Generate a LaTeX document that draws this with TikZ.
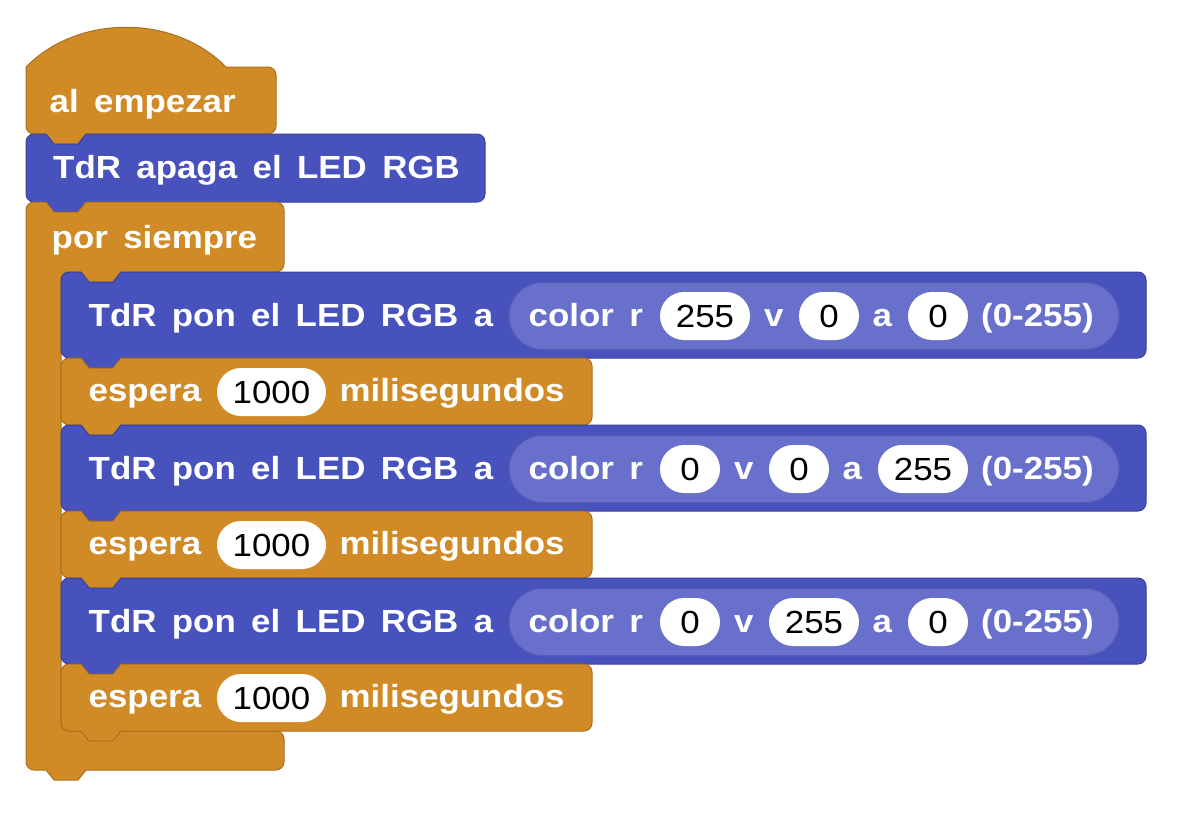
\documentclass[tikz,border=0pt]{standalone}
\usepackage{fontspec}
\newfontfamily\lblfont{Liberation Sans}[FakeStretch=1.09]
\newfontfamily\numfont{Liberation Sans}[FakeStretch=1.09]
\newcommand{\lblsetup}{\lblfont\bfseries\fontsize{32}{38}\selectfont\spaceskip 15.4pt\relax}
\definecolor{ora}{HTML}{D08B27}
\definecolor{orab}{HTML}{A8701F}
\definecolor{blk}{HTML}{4852BD}
\definecolor{blkb}{HTML}{3A409E}
\definecolor{rep}{HTML}{6870CB}
\definecolor{repb}{HTML}{565CB2}
\tikzset{
  lbl/.style={anchor=base west, inner sep=0pt, text=white, font=\lblsetup},
  num/.style={anchor=base, inner sep=0pt, text=black, font=\numfont\fontsize{32}{38}\selectfont},
  edge/.style={line width=1pt, line join=round},
}
% stack block: left, top, right, bottom, fill, border
\newcommand{\stackblk}[6]{%
  \filldraw[edge,fill=#5,draw=#6]
  (#1,#2+8) .. controls (#1,#2+3.6) and (#1+3.6,#2) .. (#1+8,#2)
  -- (#1+20,#2) -- (#1+28,#2+10) -- (#1+52,#2+10) -- (#1+60,#2)
  -- (#3-8,#2) .. controls (#3-3.6,#2) and (#3,#2+3.6) .. (#3,#2+8)
  -- (#3,#4-8) .. controls (#3,#4-3.6) and (#3-3.6,#4) .. (#3-8,#4)
  -- (#1+60,#4) -- (#1+52,#4+10) -- (#1+28,#4+10) -- (#1+20,#4)
  -- (#1+8,#4) .. controls (#1+3.6,#4) and (#1,#4-3.6) .. (#1,#4-8) -- cycle;}
% white field: x0, x1, top, text, name
\newcommand{\fld}[5]{%
  \fill[white,rounded corners=24pt] (#1,#3) rectangle (#2,#3+48);
  \node[num] (#5) at ({(#1+#2)/2},#3+35) {#4};}
\begin{document}
\begin{tikzpicture}[x=1pt,y=-1pt]
\useasboundingbox (0,0) rectangle (1188,822);
\fill[white] (0,0) rectangle (1188,822);

% hat block
\filldraw[edge,fill=ora,draw=orab]
  (26,67) .. controls (78,14) and (174,14) .. (226,67)
  -- (268,67) .. controls (272.4,67) and (276,70.6) .. (276,75)
  -- (276,126) .. controls (276,130.4) and (272.4,134) .. (268,134)
  -- (86,134) -- (78,144) -- (54,144) -- (46,134)
  -- (34,134) .. controls (29.6,134) and (26,130.4) .. (26,126) -- cycle;
\node[lbl] (hat) at (49.5,112) {al empezar};

% apaga
\stackblk{26}{134}{485}{202}{blk}{blkb}
\node[lbl] (apaga) at (53,178.3) {TdR apaga el LED RGB};

% forever C block
\filldraw[edge,fill=ora,draw=orab]
  (26,210) .. controls (26,205.6) and (29.6,202) .. (34,202)
  -- (46,202) -- (54,212) -- (78,212) -- (86,202)
  -- (276,202) .. controls (280.4,202) and (284,205.6) .. (284,210)
  -- (284,264) .. controls (284,268.4) and (280.4,272) .. (276,272)
  -- (121,272) -- (113,282) -- (89,282) -- (81,272)
  -- (69,272) .. controls (64.4,272) and (61,275.6) .. (61,280)
  -- (61,723) .. controls (61,727.4) and (64.4,731) .. (69,731)
  -- (276,731) .. controls (280.4,731) and (284,734.6) .. (284,739)
  -- (284,762) .. controls (284,766.4) and (280.4,770) .. (276,770)
  -- (86,770) -- (78,780) -- (54,780) -- (46,770)
  -- (34,770) .. controls (29.6,770) and (26,766.4) .. (26,762) -- cycle;
\node[lbl] (forever) at (51.5,248.3) {por siempre};

% ---- row 1 (red)
\stackblk{61}{272}{1146}{358}{blk}{blkb}
\filldraw[edge,fill=rep,draw=repb,rounded corners=33.5pt] (509,282.5) rectangle (1119,349.5);
\node[lbl] (s1) at (88.5,326.7) {TdR pon el LED RGB a};
\node[lbl] (c1) at (528.5,326.7) {color r};
\fld{660}{750}{292}{255}{r1}
\node[lbl] (v1) at (764,326.7) {v};
\fld{799}{859}{292}{0}{g1}
\node[lbl] (a1) at (872.5,326.7) {a};
\fld{908}{968}{292}{0}{b1}
\node[lbl] (p1) at (981,326.7) {(0-255)};

% ---- wait 1
\stackblk{61}{358}{592}{425}{ora}{orab}
\node[lbl] (w1) at (88.5,401.7) {espera};
\fld{217}{326}{368}{1000}{m1}
\node[lbl] (ms1) at (339.5,401.7) {milisegundos};

% ---- row 2 (blue)
\stackblk{61}{425}{1146}{511}{blk}{blkb}
\filldraw[edge,fill=rep,draw=repb,rounded corners=33.5pt] (509,435.5) rectangle (1119,502.5);
\node[lbl] (s2) at (88.5,479.7) {TdR pon el LED RGB a};
\node[lbl] (c2) at (528.5,479.7) {color r};
\fld{660}{720}{445}{0}{r2}
\node[lbl] (v2) at (734,479.7) {v};
\fld{769}{829}{445}{0}{g2}
\node[lbl] (a2) at (842.5,479.7) {a};
\fld{878}{968}{445}{255}{b2}
\node[lbl] (p2) at (981,479.7) {(0-255)};

% ---- wait 2
\stackblk{61}{511}{592}{578}{ora}{orab}
\node[lbl] (w2) at (88.5,554.7) {espera};
\fld{217}{326}{521}{1000}{m2}
\node[lbl] (ms2) at (339.5,554.7) {milisegundos};

% ---- row 3 (green)
\stackblk{61}{578}{1146}{664}{blk}{blkb}
\filldraw[edge,fill=rep,draw=repb,rounded corners=33.5pt] (509,588.5) rectangle (1119,655.5);
\node[lbl] (s3) at (88.5,632.7) {TdR pon el LED RGB a};
\node[lbl] (c3) at (528.5,632.7) {color r};
\fld{660}{720}{598}{0}{r3}
\node[lbl] (v3) at (734,632.7) {v};
\fld{769}{859}{598}{255}{g3}
\node[lbl] (a3) at (872.5,632.7) {a};
\fld{908}{968}{598}{0}{b3}
\node[lbl] (p3) at (981,632.7) {(0-255)};

% ---- wait 3
\stackblk{61}{664}{592}{731}{ora}{orab}
\node[lbl] (w3) at (88.5,707.7) {espera};
\fld{217}{326}{674}{1000}{m3}
\node[lbl] (ms3) at (339.5,707.7) {milisegundos};
\end{tikzpicture}
\end{document}
